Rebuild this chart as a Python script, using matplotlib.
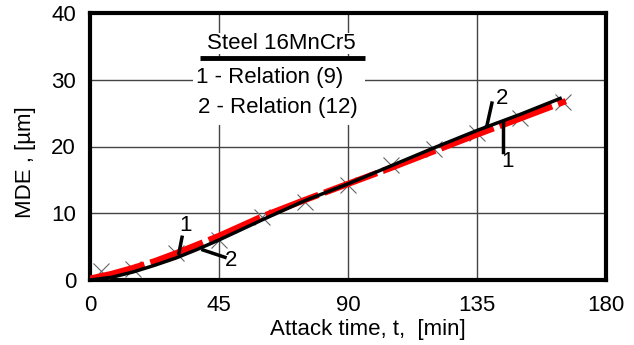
import matplotlib.pyplot as plt
from matplotlib.patches import Rectangle

plt.rcParams['font.family'] = ['Liberation Sans', 'DejaVu Sans']

# experimental points (crosses)
t_exp = [4, 15, 30, 45, 60, 75, 90, 105, 120, 135, 150, 165]
mde_exp = [1.3, 1.7, 4.1, 6.0, 9.5, 11.7, 14.2, 17.2, 19.7, 22.0, 24.3, 26.7]

# curve 1 - Relation (9), red dashed
t_rel9 = [0, 7.5, 15, 22.5, 30, 37.5, 45, 60, 75, 90, 105, 120, 135, 150, 166]
mde_rel9 = [0.2, 0.9, 1.8, 2.8, 4.0, 5.3, 6.6, 9.5, 12.0, 14.4, 16.8, 19.3, 21.8, 24.2, 26.8]

# curve 2 - Relation (12), black solid
t_rel12 = [0, 7.5, 15, 22.5, 30, 37.5, 45, 60, 75, 90, 105, 120, 135, 150, 164]
mde_rel12 = [0.0, 0.4, 1.2, 2.2, 3.3, 4.6, 6.0, 9.0, 11.9, 14.4, 17.1, 19.8, 22.4, 24.8, 27.2]

fs = 16

fig = plt.figure(figsize=(6.34, 3.45), dpi=100)
ax = fig.add_axes([90 / 634, 1 - 280 / 345, 516 / 634, 267 / 345])

ax.set_xlim(0, 180)
ax.set_ylim(0, 40)
ax.set_xticks([0, 45, 90, 135, 180])
ax.set_yticks([0, 10, 20, 30, 40])
ax.grid(True, color='#444444', linewidth=1)
ax.tick_params(length=0, labelsize=fs)
ax.tick_params(axis='x', pad=11)
ax.tick_params(axis='y', pad=10)
for s in ax.spines.values():
    s.set_linewidth(3)
    s.set_color('black')

ax.plot(t_exp, mde_exp, linestyle='none', marker='x', markersize=11,
        markeredgewidth=0.8, color='#666666', zorder=3)
ax.plot(t_rel9, mde_rel9, color='red', linewidth=4.5, dashes=(9, 1), zorder=4)
ax.plot(t_rel12, mde_rel12, color='black', linewidth=2.5, zorder=5)

# legend box (white patch covering the grid)
ax.add_patch(Rectangle((35.9, 23.2), 60.0, 10.1, facecolor='white',
                       edgecolor='none', zorder=2))
ax.text(66.6, 35.4, 'Steel 16MnCr5', fontsize=fs, ha='center', va='center',
        zorder=6, bbox=dict(facecolor='white', edgecolor='none', pad=0))
ax.plot([38.4, 95.9], [33.3, 33.3], color='black', linewidth=3.5, zorder=7,
        solid_capstyle='butt')
ax.text(62.8, 30.4, '1 - Relation (9)', fontsize=fs, ha='center', va='center',
        zorder=6, bbox=dict(facecolor='white', edgecolor='none', pad=1))
ax.text(65.6, 25.9, '2 - Relation (12)', fontsize=fs, ha='center', va='center',
        zorder=6)

# curve labels with leader lines
lab = dict(fontsize=fs, zorder=8, ha='center', va='center')
ax.plot([31.0, 32.1], [4.0, 6.4], color='black', linewidth=2.5, zorder=8)
ax.text(33.3, 8.1, '1', **lab)
ax.plot([39.4, 47.1], [4.5, 3.4], color='black', linewidth=2.5, zorder=8)
ax.text(49.2, 2.9, '2', **lab)
ax.plot([138.5, 140.2], [23.2, 26.5], color='black', linewidth=2.5, zorder=8)
ax.text(143.9, 27.2, '2', **lab)
ax.plot([144.1, 144.1], [23.5, 19.2], color='black', linewidth=2.5, zorder=8)
ax.text(145.8, 17.7, '1', **lab)

ax.set_xlabel('Attack time, t,  [min]', fontsize=fs)
ax.set_ylabel('MDE , [µm]', fontsize=fs)
ax.xaxis.set_label_coords(0.539, -0.145)
ax.yaxis.set_label_coords(-0.105, 0.44)

fig.savefig('out.png', dpi=100)
